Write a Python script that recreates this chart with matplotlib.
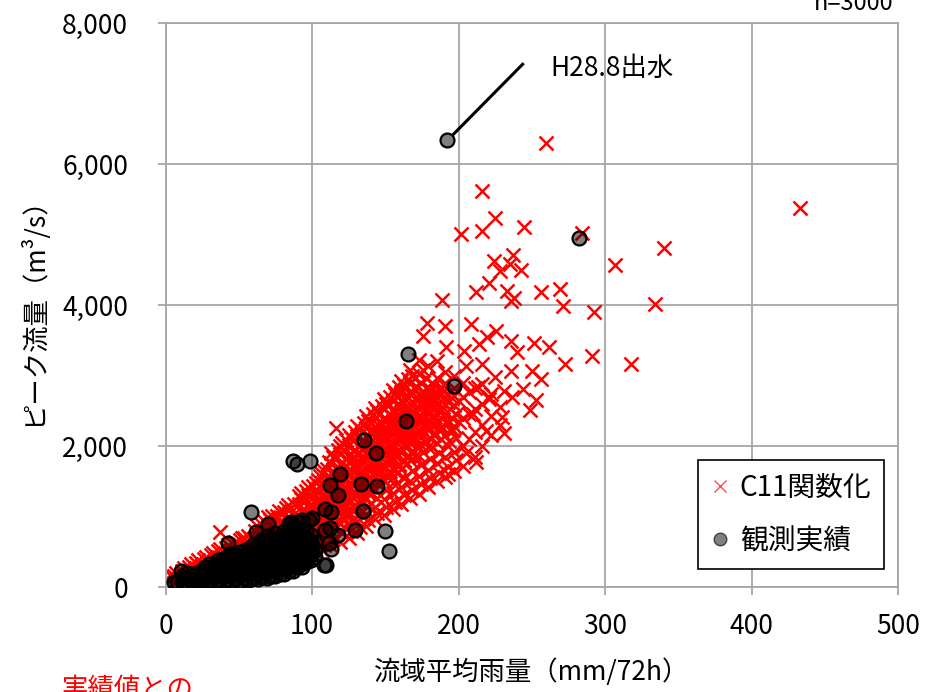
import numpy as np
import matplotlib
matplotlib.use("Agg")
import matplotlib.pyplot as plt
from matplotlib.lines import Line2D
from matplotlib.ticker import StrMethodFormatter

plt.rcParams['font.family'] = ['Noto Sans CJK JP', 'DejaVu Sans']

# ---------------- data ----------------
# C11関数化 : scattered / outlying simulated points
red_sparse_x = [260, 216, 225, 216, 202, 245, 284, 433, 340, 307, 334, 292.5, 271.5, 269.5, 256,
                238, 233, 212, 220.5, 228.5, 235, 243, 237, 224.5, 188.5, 178.5, 191, 176, 208.5,
                225.5, 219.5, 214, 235.5, 251.5, 261.5, 240, 203.5, 191.5, 272.5, 291, 318, 235.5,
                250.5, 256.5, 253, 248.5, 230, 231, 220.5, 218.5, 196, 116.5, 216, 205, 225, 213,
                244, 236.5, 231, 221, 210, 212, 205, 192.5, 193.5, 236, 37, 53.5, 70, 83.5, 92.5, 3]
red_sparse_y = [6300, 5620, 5230, 5055, 5005, 5110, 5015, 5370, 4810, 4565, 4010, 3905, 3980, 4225, 4180,
                4095, 4195, 4185, 4310, 4480, 4575, 4500, 4705, 4620, 4065, 3745, 3700, 3555, 3735,
                3625, 3540, 3445, 3490, 3455, 3400, 3330, 3350, 3405, 3170, 3275, 3170, 3060,
                3065, 2955, 2650, 2510, 2415, 2190, 2690, 2210, 2220, 2255, 3160, 3135, 2980, 2830,
                2810, 2690, 2785, 2660, 2455, 1775, 1905, 1605, 2075, 4055, 780, 690, 1000, 1160, 1330, 170]

# C11関数化 : dense band, listed column by column (rainfall -> peak flows)
red_band_x = [6, 11, 16, 21, 26, 31, 36, 41, 46, 51, 56, 61, 66, 71, 76, 81, 86, 91, 96, 101,
              104, 107, 110, 113, 116, 119, 122, 125, 128, 131, 134, 137, 140, 143, 146, 149,
              152, 155, 158, 161, 164, 167, 170, 173, 176, 179, 182, 185, 188, 191, 194, 197,
              200, 203, 207, 211, 216, 222, 228]
red_band_y = [
    [60, 150], [110, 230], [140, 290], [190, 340], [230, 400], [270, 450], [320, 510],
    [360, 560], [400, 610], [440, 660], [480, 620, 730], [520, 680, 800], [560, 730, 880],
    [600, 780, 950], [640, 830, 1010], [560, 700, 880, 1060], [600, 760, 930, 1120],
    [460, 640, 810, 990, 1180, 1290], [500, 690, 870, 1050, 1230, 1360],
    [440, 560, 740, 920, 1100, 1280, 1430], [600, 790, 970, 1160, 1340, 1520],
    [520, 660, 840, 1020, 1210, 1400, 1600], [720, 900, 1080, 1270, 1460, 1680],
    [580, 780, 960, 1140, 1330, 1520, 1760, 1900], [840, 1020, 1200, 1390, 1580, 1820],
    [640, 900, 1080, 1260, 1450, 1640, 1880, 2000], [960, 1140, 1320, 1510, 1700, 1940],
    [700, 860, 1020, 1200, 1380, 1570, 1760, 2010, 2150], [1080, 1260, 1440, 1630, 1820, 2080],
    [760, 940, 1140, 1320, 1500, 1690, 1880, 2140, 2280], [1200, 1380, 1560, 1750, 1940, 2200],
    [860, 1040, 1260, 1440, 1620, 1810, 2000, 2260, 2420], [1320, 1500, 1680, 1870, 2060, 2330],
    [960, 1140, 1380, 1560, 1740, 1930, 2120, 2400, 2540], [1440, 1620, 1800, 1990, 2180, 2460],
    [1020, 1250, 1500, 1680, 1860, 2050, 2240, 2520, 2660], [1560, 1740, 1920, 2110, 2300, 2580],
    [1100, 1330, 1560, 1800, 1980, 2170, 2360, 2640, 2800], [1620, 1860, 2040, 2230, 2420, 2700],
    [1180, 1420, 1680, 1920, 2100, 2290, 2480, 2760, 2920], [1740, 1980, 2160, 2350, 2540, 2830],
    [1260, 1500, 1800, 2040, 2220, 2410, 2600, 2900, 3080], [1860, 2100, 2280, 2470, 2660, 2960],
    [1320, 1580, 1860, 2160, 2340, 2530, 2720, 3020, 3220], [1920, 2160, 2400, 2590, 2780, 3080],
    [1420, 1660, 1980, 2220, 2460, 2650, 2840, 3140], [1980, 2280, 2520, 2710, 2900],
    [1500, 1760, 2040, 2340, 2580, 2770, 2960, 3200], [2100, 2400, 2640, 2830],
    [1560, 1840, 2160, 2460, 2700, 2890, 3050], [2220, 2520, 2760],
    [1640, 1920, 2280, 2580, 2820, 2990], [2340, 2640], [1720, 2000, 2400, 2700, 2900],
    [2100, 2460, 2760], [1840, 2200, 2520, 2820], [2000, 2300, 2600, 2880],
    [2150, 2420, 2740], [2300, 2560]]

# C11関数化 : dense band, second pass of columns lying between the first ones
red_band2_x = [7.5, 12.5, 17.5, 22.5, 27.5, 32.5, 37.5, 42.5, 47.5, 52.5, 57.5, 62.5, 67.5,
               72.5, 77.5, 82.5, 87.5, 92.5, 97.5, 102.5, 105.5, 108.5, 111.5, 114.5, 117.5,
               120.5, 123.5, 126.5, 129.5, 132.5, 135.5, 138.5, 141.5, 144.5, 147.5, 150.5,
               153.5, 156.5, 159.5, 162.5, 165.5, 168.5, 171.5, 174.5, 177.5, 180.5, 183.5,
               186.5, 189.5, 192.5, 195.5, 198.5]
red_band2_y = [
    [100, 200], [160, 270], [200, 320], [240, 380], [280, 430], [330, 480], [370, 540],
    [420, 590], [460, 640], [500, 700], [540, 690], [600, 760, 860], [640, 810, 940],
    [690, 860, 1010], [730, 920, 1080], [640, 790, 970, 1120], [680, 850, 1030, 1180],
    [550, 730, 900, 1080, 1250], [590, 780, 960, 1140, 1310, 1420],
    [500, 650, 830, 1010, 1190, 1370, 1480], [690, 880, 1060, 1250, 1430, 1580],
    [590, 750, 930, 1110, 1300, 1500, 1650], [810, 990, 1170, 1360, 1560, 1780],
    [680, 870, 1050, 1230, 1420, 1640, 1850], [930, 1110, 1290, 1480, 1700, 1940],
    [760, 990, 1170, 1350, 1540, 1760, 2040], [1050, 1230, 1410, 1600, 1820, 2080],
    [800, 940, 1110, 1290, 1470, 1660, 1880, 2120], [1170, 1350, 1530, 1720, 1950, 2200],
    [850, 1040, 1230, 1410, 1590, 1780, 2010, 2240], [1290, 1470, 1650, 1840, 2070, 2330],
    [950, 1150, 1350, 1530, 1710, 1900, 2130, 2360], [1410, 1590, 1770, 1960, 2190, 2450],
    [1050, 1260, 1470, 1650, 1830, 2020, 2250, 2490], [1530, 1710, 1890, 2080, 2310, 2570],
    [1130, 1370, 1590, 1770, 1950, 2140, 2380, 2600], [1650, 1830, 2010, 2200, 2440, 2700],
    [1210, 1450, 1680, 1890, 2070, 2260, 2500, 2740], [1740, 1950, 2130, 2320, 2560, 2830],
    [1300, 1550, 1800, 2010, 2190, 2380, 2620, 2860], [1860, 2070, 2250, 2440, 2700, 2950],
    [1380, 1650, 1930, 2130, 2310, 2500, 2770, 3000], [1980, 2190, 2370, 2560, 2840],
    [1460, 1730, 2010, 2250, 2430, 2620, 2900], [2060, 2310, 2520, 2710, 2960],
    [1540, 1820, 2120, 2370, 2600, 2780], [2160, 2440, 2660, 2860],
    [1620, 1900, 2220, 2500, 2720], [2260, 2560, 2780], [1700, 2000, 2340, 2620],
    [2400, 2680], [1800, 2120, 2460]]

# C11関数化 : third pass filling the solid core of the band
red_band3_x = [99.8, 103.3, 106.8, 110.3, 113.8, 117.3, 120.8, 124.3, 127.8, 131.3, 134.8,
               138.3, 141.8, 145.3, 148.8, 152.3, 155.8, 159.3, 162.8, 166.3, 169.8, 173.3,
               176.8, 180.3, 183.8, 187.3]
red_band3_y = [
    [650, 820, 1000, 1170], [700, 880, 1060, 1240], [760, 940, 1120, 1300, 1480],
    [820, 1000, 1180, 1370, 1560], [880, 1060, 1240, 1430, 1630], [950, 1130, 1310, 1500, 1700],
    [1010, 1190, 1380, 1570, 1780], [1080, 1260, 1450, 1640, 1860], [1140, 1330, 1520, 1710, 1930],
    [1210, 1400, 1590, 1790, 2000], [1270, 1460, 1660, 1860, 2080], [1340, 1530, 1730, 1930, 2150],
    [1400, 1600, 1800, 2000, 2220], [1470, 1670, 1870, 2080, 2300], [1530, 1730, 1940, 2150, 2380],
    [1600, 1800, 2010, 2220, 2450], [1660, 1870, 2080, 2300, 2530], [1730, 1940, 2150, 2370, 2600],
    [1790, 2000, 2220, 2440, 2680], [1860, 2070, 2290, 2520, 2750], [1920, 2140, 2360, 2590, 2820],
    [1990, 2210, 2430, 2660], [2050, 2280, 2500, 2730], [2120, 2350, 2570], [2180, 2410, 2640],
    [2250, 2480]]

# 観測実績 : individually readable observed floods
obs_x = [192, 282.5, 165.5, 197, 164, 135.5, 143.5, 87, 90, 98.5, 119, 112.5, 133.5, 144.5, 118,
         134.5, 109, 113, 58.5, 129.5, 109, 112, 150, 152.5, 118, 113, 111.5, 108.5, 109.5,
         98, 94.5, 98, 90.5, 84.5, 70, 62, 43, 10.5, 5.5, 86, 93, 100]
obs_y = [6340, 4945, 3310, 2855, 2355, 2090, 1900, 1785, 1740, 1785, 1600, 1445, 1455, 1430, 1310,
         1080, 1100, 1065, 1060, 815, 805, 830, 790, 512, 735, 545, 620, 305, 310,
         625, 335, 945, 920, 890, 890, 780, 625, 230, 75, 925, 950, 975]

# 観測実績 : dense cluster of small floods, column by column
obs_mass_x = [8, 12, 15, 18, 21, 24, 27, 30, 33, 36, 39, 42, 45, 48, 51, 54, 57, 60, 63, 66,
              69, 72, 75, 78, 81, 84, 87, 90, 93, 96, 99, 102]
obs_mass_y = [
    [70], [60, 150], [50, 130, 200], [60, 140], [50, 120, 200], [70, 150, 230],
    [60, 140, 220, 280], [80, 160, 240, 320], [60, 140, 220, 300], [90, 170, 250, 330, 380],
    [70, 150, 230, 310, 400], [100, 180, 260, 340, 430], [80, 160, 240, 320, 400, 470],
    [110, 190, 270, 350, 440], [90, 170, 250, 330, 410, 490], [120, 200, 280, 360, 450, 530],
    [100, 180, 260, 340, 420, 500], [130, 210, 290, 370, 450, 540, 600],
    [110, 190, 270, 350, 430, 510, 620], [140, 220, 300, 380, 460, 550, 660],
    [130, 210, 290, 370, 450, 530, 620, 720], [160, 240, 320, 400, 480, 570, 680],
    [150, 230, 310, 390, 470, 550, 650, 760], [190, 270, 350, 430, 510, 600, 720],
    [180, 260, 340, 420, 500, 590, 700, 800], [230, 310, 390, 470, 560, 660, 780],
    [220, 300, 380, 460, 540, 640, 760, 860], [280, 360, 440, 520, 610, 720, 840],
    [280, 360, 440, 520, 600, 700, 820], [350, 430, 510, 600, 690, 800],
    [380, 460, 540, 640, 740], [420, 520, 640]]

x_ticks = [0, 100, 200, 300, 400, 500]
y_ticks = [0, 2000, 4000, 6000, 8000]

# ---------------- assemble ----------------
rx = list(red_sparse_x)
ry = list(red_sparse_y)
for cols_x, cols_y in ((red_band_x, red_band_y), (red_band2_x, red_band2_y),
                       (red_band3_x, red_band3_y)):
    for xv, ys in zip(cols_x, cols_y):
        for yv in ys:
            rx.append(xv)
            ry.append(yv)

ox = list(obs_x)
oy = list(obs_y)
for xv, ys in zip(obs_mass_x, obs_mass_y):
    for yv in ys:
        ox.append(xv)
        oy.append(yv)

# ---------------- figure ----------------
W, H = 926, 692
fig = plt.figure(figsize=(W / 100, H / 100), dpi=100)
x0, x1, y0, y1 = 165.5, 898, 23, 587
ax = fig.add_axes([x0 / W, 1 - y1 / H, (x1 - x0) / W, (y1 - y0) / H])

grid_c = '#a6a6a6'
ax.set_xlim(0, 500)
ax.set_ylim(0, 8000)
ax.set_xticks(x_ticks)
ax.set_yticks(y_ticks)
ax.yaxis.set_major_formatter(StrMethodFormatter('{x:,.0f}'))
ax.grid(True, color=grid_c, linewidth=1.3, zorder=0)
ax.set_axisbelow(True)
for s in ax.spines.values():
    s.set_color(grid_c)
    s.set_linewidth(1.3)
ax.tick_params(axis='both', direction='out', length=6, width=1.3, color=grid_c,
               labelsize=19, labelcolor='black')
ax.tick_params(axis='y', pad=21)
ax.tick_params(axis='x', pad=13)

ax.plot(rx, ry, ls='none', marker='x', ms=9.4, mew=1.8, color='#ff0000', zorder=2)
ax.plot([195.5, 244.5], [6400, 7430], color='black', lw=2.2, zorder=2.5, solid_capstyle='butt')
ax.plot(ox, oy, ls='none', marker='o', ms=10, mew=1.6, mfc=(0, 0, 0, 0.5), mec='black', zorder=3)

ax.text(263, 7360, 'H28.8出水', fontsize=19, ha='left', va='center', color='black')

ax.set_xlabel('流域平均雨量（mm/72h）', fontsize=19, labelpad=13)
ax.set_ylabel('ピーク流量（m³/s）', fontsize=19, labelpad=11)

handles = [Line2D([], [], ls='none', marker='x', ms=9, mew=1.0, color='#ff4d4d'),
           Line2D([], [], ls='none', marker='o', ms=9, mew=1.0, mfc='#808080', mec='#404040')]
leg = ax.legend(handles, ['C11関数化', '観測実績'], loc='upper left',
                bbox_to_anchor=((698 - x0) / (x1 - x0), (y1 - 460) / (y1 - y0)),
                borderaxespad=0, fontsize=20, frameon=True, fancybox=False,
                edgecolor='black', framealpha=1, borderpad=0.45, labelspacing=0.85,
                handlelength=0.7, handletextpad=0.35)
leg.get_frame().set_linewidth(1.2)
leg.set_zorder(5)

fig.text(893 / W, 1 - 10 / H, 'n=3000', fontsize=17, ha='right', va='baseline')
fig.text(62 / W, 1 - 676 / H, '実績値との', fontsize=19, ha='left', va='top', color='#ff0000')

fig.savefig('out.png', dpi=100)
